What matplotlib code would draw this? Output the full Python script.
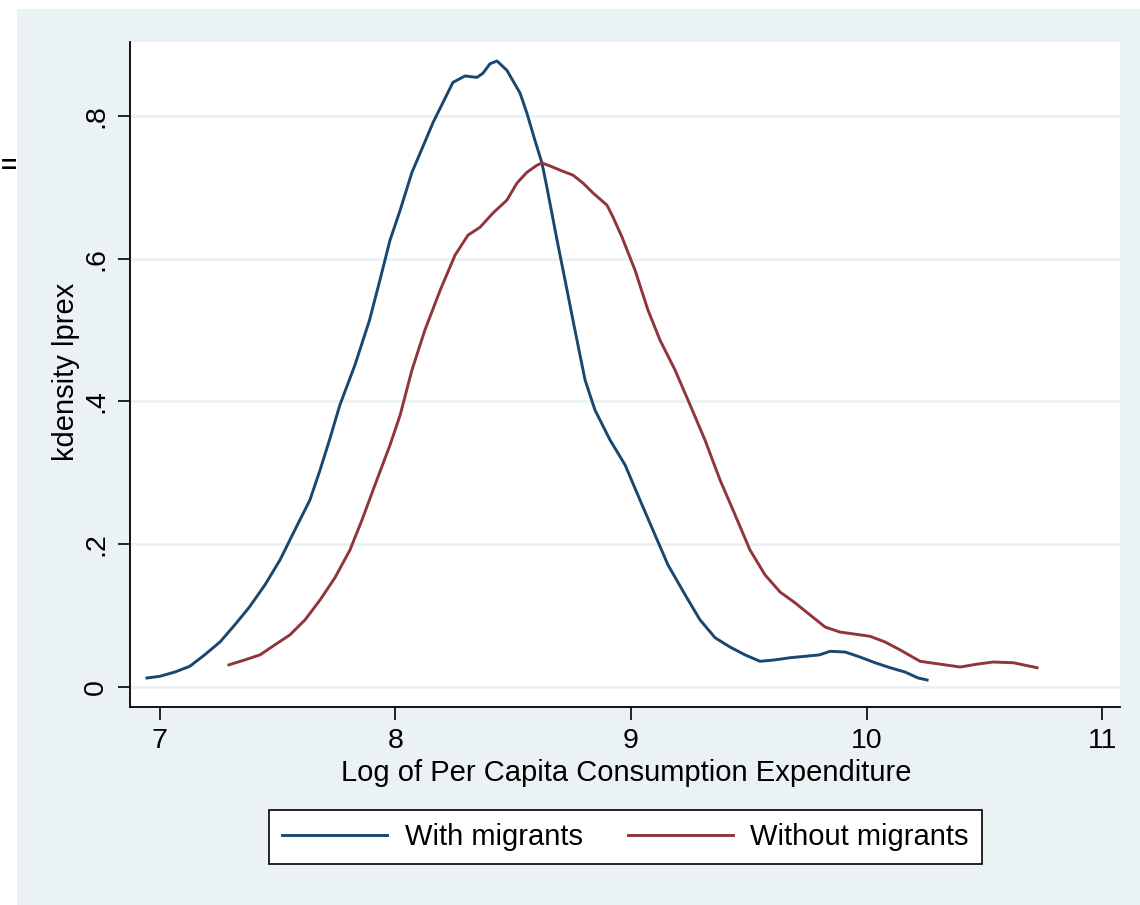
import numpy as np
import matplotlib.pyplot as plt
from matplotlib.patches import Rectangle

plt.rcParams['font.family'] = ['Liberation Sans', 'DejaVu Sans']

# kernel density, households with migrants
x_with = [6.945, 7.0, 7.064, 7.127, 7.19, 7.255, 7.318, 7.38, 7.446, 7.51, 7.573,
          7.637, 7.68, 7.72, 7.764, 7.828, 7.89, 7.934, 7.977, 8.02, 8.07, 8.11,
          8.16, 8.244, 8.295, 8.346, 8.372, 8.401, 8.431, 8.473, 8.529, 8.558,
          8.592, 8.622, 8.643, 8.686, 8.72, 8.762, 8.805, 8.847, 8.911, 8.975,
          9.038, 9.102, 9.157, 9.23, 9.293, 9.357, 9.42, 9.484, 9.548, 9.611,
          9.675, 9.739, 9.8, 9.845, 9.909, 9.972, 10.036, 10.1, 10.163, 10.219, 10.257]
y_with = [0.0126, 0.015, 0.021, 0.029, 0.045, 0.063, 0.087, 0.112, 0.143, 0.178, 0.22,
          0.262, 0.304, 0.346, 0.395, 0.451, 0.514, 0.57, 0.626, 0.668, 0.721, 0.752,
          0.791, 0.847, 0.856, 0.854, 0.86, 0.873, 0.877, 0.864, 0.832, 0.804,
          0.766, 0.734, 0.7, 0.626, 0.57, 0.5, 0.43, 0.388, 0.346, 0.311,
          0.262, 0.213, 0.171, 0.129, 0.094, 0.069, 0.056, 0.045, 0.036, 0.038,
          0.041, 0.043, 0.045, 0.05, 0.049, 0.042, 0.034, 0.027, 0.021, 0.0126, 0.0098]

# kernel density, households without migrants
x_without = [7.293, 7.361, 7.425, 7.488, 7.552, 7.616, 7.68, 7.743, 7.807, 7.858,
             7.913, 7.977, 8.02, 8.07, 8.125, 8.19, 8.253, 8.308, 8.359, 8.414,
             8.473, 8.516, 8.558, 8.601, 8.622, 8.656, 8.699, 8.754, 8.796, 8.839,
             8.898, 8.924, 8.962, 9.017, 9.072, 9.123, 9.187, 9.251, 9.314, 9.378,
             9.442, 9.505, 9.569, 9.633, 9.696, 9.76, 9.824, 9.887, 9.951, 10.015,
             10.079, 10.142, 10.227, 10.312, 10.397, 10.469, 10.537, 10.622, 10.724]
y_without = [0.031, 0.038, 0.045, 0.059, 0.073, 0.094, 0.122, 0.153, 0.192, 0.234,
             0.283, 0.339, 0.381, 0.444, 0.5, 0.556, 0.605, 0.633, 0.644, 0.664,
             0.682, 0.706, 0.721, 0.731, 0.734, 0.73, 0.724, 0.717, 0.706, 0.692,
             0.675, 0.658, 0.63, 0.584, 0.528, 0.486, 0.444, 0.395, 0.346, 0.29,
             0.241, 0.192, 0.157, 0.133, 0.118, 0.101, 0.084, 0.077, 0.074, 0.071,
             0.063, 0.052, 0.036, 0.032, 0.028, 0.032, 0.035, 0.034, 0.027]

x_ticks = [7, 8, 9, 10, 11]
y_ticks = [0, 0.2, 0.4, 0.6, 0.8]
y_ticklabels = ['0', '.2', '.4', '.6', '.8']

bg = '#eaf2f3'
blue = '#1a476f'
red = '#90353b'

fig = plt.figure(figsize=(11.4, 9.05), dpi=100, facecolor='white')
fig.patches.append(Rectangle((17 / 1140, 0), 1 - 17 / 1140, 1 - 9 / 905,
                             transform=fig.transFigure, facecolor=bg,
                             edgecolor='none', zorder=-10))
fig.text(0.0005, 1 - 167 / 905, '=', fontsize=20, fontweight='bold', va='center', ha='left')

ax = fig.add_axes([0.114, 0.2188, 0.8685, 0.7348])
ax.set_facecolor('white')
ax.plot(x_with, y_with, color=blue, lw=2.1, label='With migrants')
ax.plot(x_without, y_without, color=red, lw=2.1, label='Without migrants')

ax.set_xlim(6.873, 11.076)
ax.set_ylim(-0.028, 0.9036)
ax.set_xticks(x_ticks)
ax.set_yticks(y_ticks)
ax.set_yticklabels(y_ticklabels, rotation=90, va='center')
ax.tick_params(labelsize=20.5, length=9, width=1.2, pad=6)
for yv in y_ticks:
    ax.axhline(yv, color=bg, lw=2, zorder=0)

for s in ['top', 'right']:
    ax.spines[s].set_visible(False)
for s in ['left', 'bottom']:
    ax.spines[s].set_linewidth(1.3)

ax.set_xlabel('Log of Per Capita Consumption Expenditure', fontsize=21, va='center')
ax.set_ylabel('kdensity lprex', fontsize=21, va='center')
ax.xaxis.set_label_coords(0.5 + (626 - 625) / 990, -66 / 665)
ax.yaxis.set_label_coords(-64 / 990, (707 - 372) / 665)

leg = fig.legend(loc='center', bbox_to_anchor=(0.5487, 0.0751), ncol=2, fontsize=21,
                 frameon=True, fancybox=False, edgecolor='black', framealpha=1,
                 handlelength=3.6, handletextpad=0.6, columnspacing=1.55, borderpad=0.45)
leg.get_frame().set_linewidth(1.2)

plt.savefig('out.png', dpi=100, facecolor=fig.get_facecolor())
